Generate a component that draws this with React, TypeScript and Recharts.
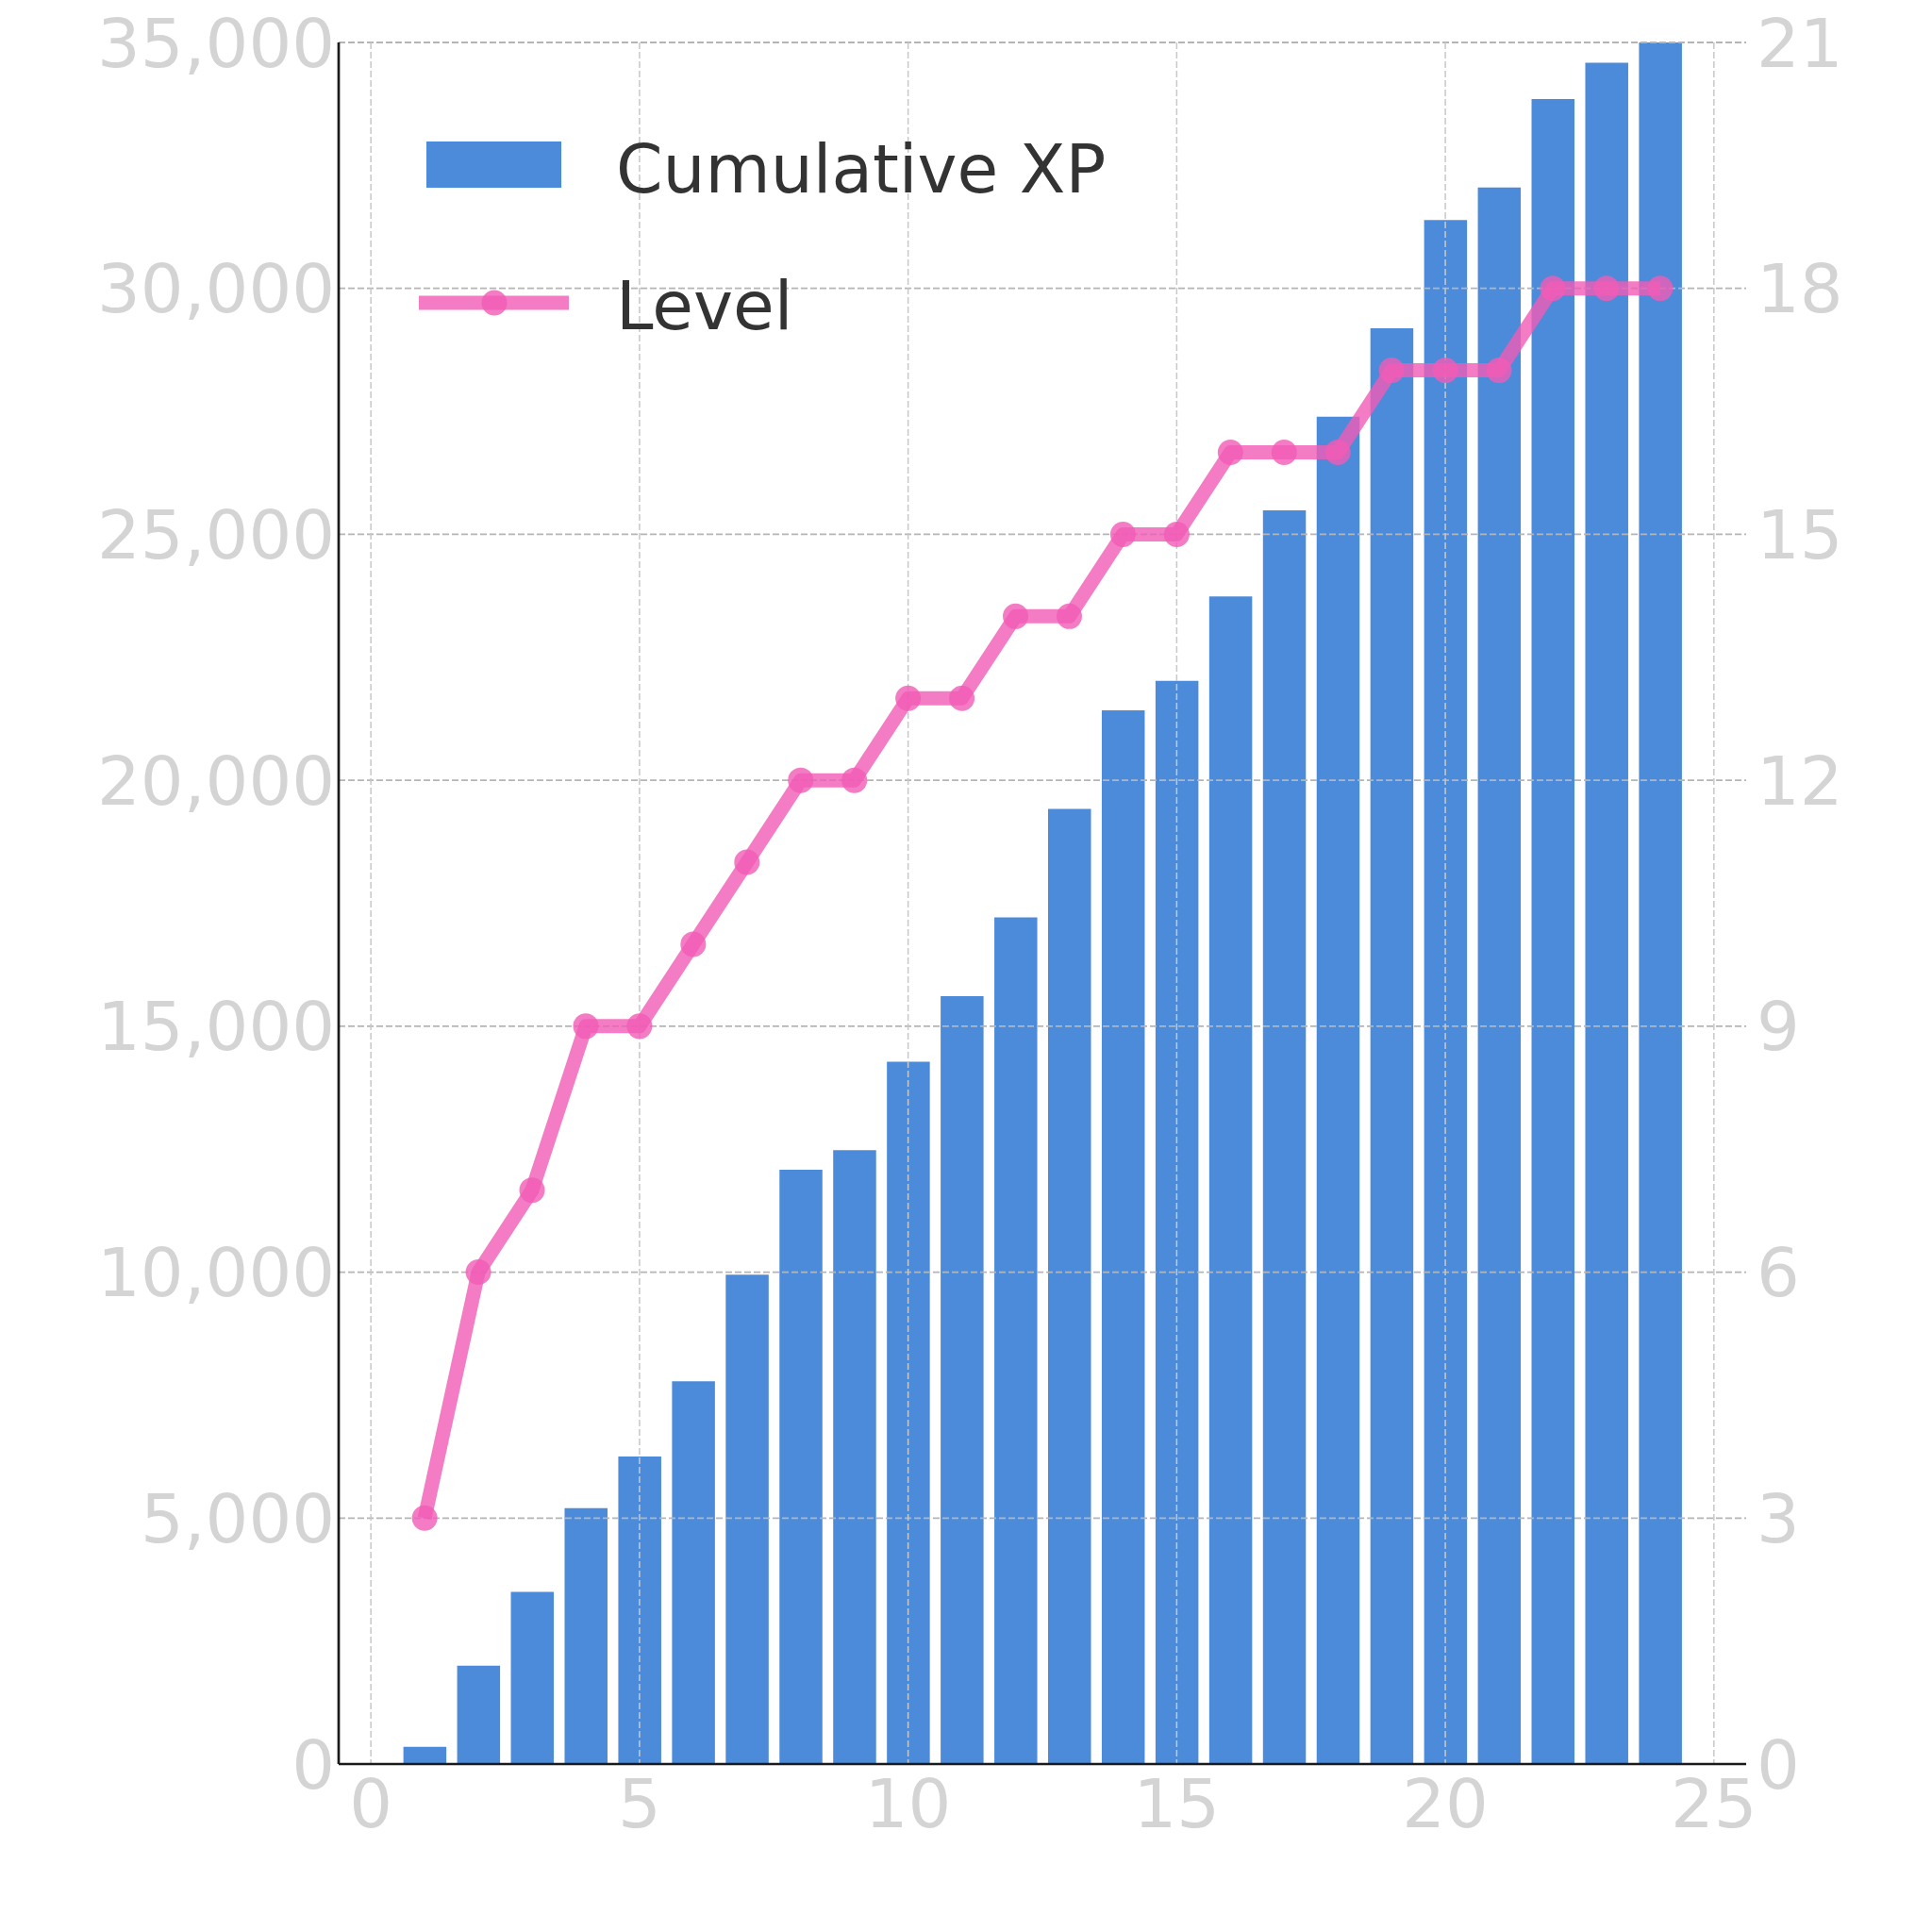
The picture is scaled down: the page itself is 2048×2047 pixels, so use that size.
import React from 'react';
import { ComposedChart, Bar, Line, XAxis, YAxis, CartesianGrid, Legend } from 'recharts';

const sessions = [1, 2, 3, 4, 5, 6, 7, 8, 9, 10, 11, 12, 13, 14, 15, 16, 17, 18, 19, 20, 21, 22, 23, 24];
const cumulativeXp = [350, 2000, 3500, 5200, 6250, 7780, 9950, 12080, 12480, 14280, 15610, 17210, 19420, 21420, 22020, 23740, 25490, 27390, 29190, 31390, 32050, 33850, 34590, 35000];
const levelValues = [3, 6, 7, 9, 9, 10, 11, 12, 12, 13, 13, 14, 14, 15, 15, 16, 16, 16, 17, 17, 17, 18, 18, 18];
const xTicks = [0, 5, 10, 15, 20, 25];
const xpTicks = [0, 5000, 10000, 15000, 20000, 25000, 30000, 35000];
const levelTicks = [0, 3, 6, 9, 12, 15, 18, 21];
const xpName = 'Cumulative XP';
const levelName = 'Level';

const data = sessions.map((s, i) => ({ session: s, xp: cumulativeXp[i], level: levelValues[i] }));

const BAR = '#4c8bda';
const PINK = '#f15bb5';
const FONT = 'DejaVu Sans, sans-serif';
const tickStyle = { fill: '#d4d4d4', fontSize: 72, fontFamily: FONT };

const renderLegend = () => (
  <svg width={1200} height={400} style={{ display: 'block' }}>
    <rect x={444} y={142} width={143} height={49} fill={BAR} />
    <text x={645} y={196} fontSize={71} fontFamily={FONT} fill="#333333">{xpName}</text>
    <line x1={436} x2={595} y1={313} y2={313} stroke={PINK} strokeOpacity={0.8} strokeWidth={15} />
    <circle cx={516} cy={313} r={13.5} fill={PINK} fillOpacity={0.8} />
    <text x={645} y={341} fontSize={71} fontFamily={FONT} fill="#333333">{levelName}</text>
  </svg>
);

export default function App() {
  return (
    <ComposedChart
      width={2040}
      height={2030}
      data={data}
      margin={{ top: 37, right: 0, bottom: 68, left: 0 }}
    >
      <XAxis
        dataKey="session"
        type="number"
        domain={[-0.6, 25.6]}
        ticks={xTicks}
        interval={0}
        allowDataOverflow
        height={100}
        tickSize={0}
        tickMargin={16}
        tick={tickStyle}
        axisLine={{ stroke: '#1a1a1a', strokeWidth: 2.7 }}
      />
      <YAxis
        yAxisId="xp"
        domain={[0, 35000]}
        ticks={xpTicks}
        interval={0}
        allowDataOverflow
        width={351}
        tickSize={0}
        tickMargin={4}
        tick={tickStyle}
        tickFormatter={(v: number) => v.toLocaleString('en-US')}
        axisLine={{ stroke: '#1a1a1a', strokeWidth: 2.7 }}
      />
      <YAxis
        yAxisId="level"
        orientation="right"
        domain={[0, 21]}
        ticks={levelTicks}
        interval={0}
        allowDataOverflow
        width={197}
        tickSize={0}
        tickMargin={11}
        tick={tickStyle}
        axisLine={false}
        tickLine={false}
      />
      <Bar
        yAxisId="xp"
        dataKey="xp"
        name={xpName}
        fill={BAR}
        barSize={45.5}
        isAnimationActive={false}
      />
      <CartesianGrid
        yAxisId="xp"
        vertical={false}
        stroke="#b5b5b5"
        strokeWidth={1.8}
        strokeDasharray="7 3"
        syncWithTicks
        zIndex={350}
      />
      <CartesianGrid
        yAxisId="xp"
        horizontal={false}
        stroke="#c8c8c8"
        strokeWidth={1.5}
        strokeDasharray="7 3"
        syncWithTicks
        zIndex={350}
      />
      <Line
        yAxisId="level"
        dataKey="level"
        name={levelName}
        type="linear"
        stroke={PINK}
        strokeOpacity={0.8}
        strokeWidth={15}
        strokeLinejoin="round"
        dot={{ r: 13.5, fill: PINK, fillOpacity: 0.8, stroke: 'none' }}
        activeDot={false}
        isAnimationActive={false}
      />
      <Legend
        layout="vertical"
        align="center"
        verticalAlign="middle"
        content={renderLegend}
        wrapperStyle={{ position: 'absolute', left: 0, top: 0, width: 1200, height: 400, pointerEvents: 'none' }}
      />
    </ComposedChart>
  );
}
